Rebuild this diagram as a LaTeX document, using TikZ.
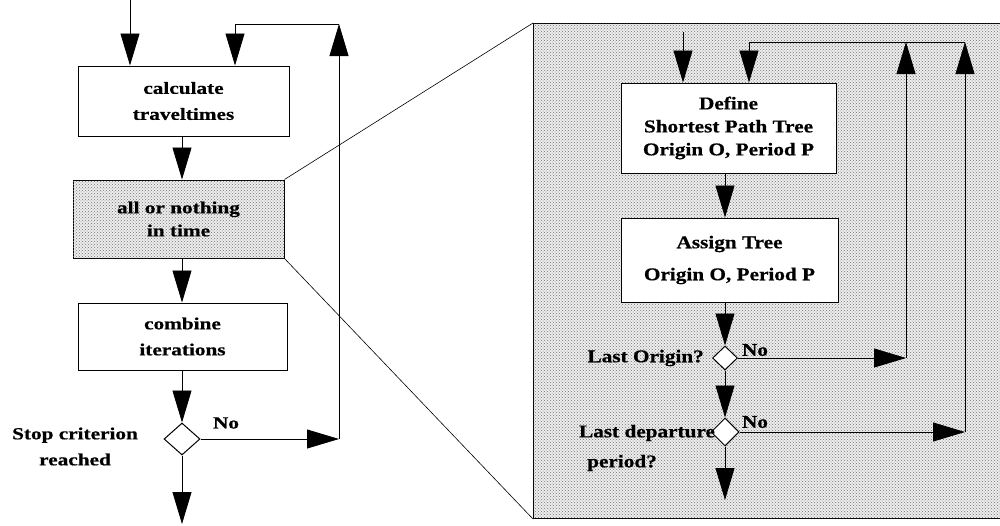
\documentclass[tikz,border=0pt]{standalone}
\usepackage{fontspec}
\setmainfont{Liberation Serif}[FakeStretch=1.25, FakeBold=0.6]
\newfontfamily\panelfont{Liberation Serif}[FakeStretch=1.18, FakeBold=0.6]
\usetikzlibrary{arrows.meta,shapes.geometric,patterns}
\begin{document}
\begin{tikzpicture}[x=1pt,y=-1pt,
  every node/.style={font=\bfseries\fontsize{17}{26}\selectfont},
  arr/.style={-{Triangle[length=32pt,width=19pt]}, line width=0.8pt},
  stepbox/.style={draw, line width=1pt, fill=white, inner sep=0pt, align=center},
  halftone/.style={fill=black!7, postaction={pattern=crosshatch dots, pattern color=black!55}},
  decision/.style={diamond, draw, line width=1pt, fill=white, inner sep=0pt},
  lbl/.style={inner sep=0pt, align=center},
  rtext/.style={font=\panelfont\bfseries\fontsize{18}{23}\selectfont},
  zoomline/.style={line width=0.6pt}
]
\clip (0,0) rectangle (1000,525);

% ---------- detail panel (drawn first, sits behind everything) ----------
\node[draw, line width=1pt, halftone, inner sep=0pt, anchor=north west,
      minimum width=480pt, minimum height=495pt] (panel) at (533,23) {};

% ---------- outer loop ----------
\node[stepbox, minimum width=211pt, minimum height=70pt] (calc) at (183.5,101) {calculate\\traveltimes};
\node[stepbox, halftone, minimum width=211pt, minimum height=78pt] (aon) at (178.5,219) {all or nothing\\[-3pt]in time};
\node[stepbox, minimum width=209pt, minimum height=67pt] (comb) at (182.5,336.5) {combine\\iterations};
\node[decision, minimum width=36pt, minimum height=32pt] (stop) at (182,439) {};

\node[lbl] (stoptxt) at (75,446.5) {Stop criterion\\reached};
\node[lbl] (nostop) at (226,423) {No};

\coordinate (in0) at (130,0);
\coordinate (outL) at (182,524);
\coordinate (cL) at (339,439);
\coordinate (tL) at (339,24);
\coordinate (rL) at (235,24);

\draw[arr] (in0) -- (in0 |- calc.north);
\draw[arr] (calc.south -| stop) -- (aon.north -| stop);
\draw[arr] (aon.south -| stop) -- (comb.north -| stop);
\draw[arr] (comb.south -| stop) -- (stop.north);
\draw[arr] (stop.south) -- (outL);
\draw[arr] (stop.east) -- (cL);
\draw[arr] (cL) -- (tL);
\draw[arr] (tL) -- (rL) -- (rL |- calc.north);

% ---------- magnification lines ----------
\draw[zoomline] (aon.north east) -- (panel.north west);
\draw[zoomline] (aon.south east) -- (panel.south west);

% ---------- inner loops ----------
\node[stepbox, rtext, minimum width=215pt, minimum height=90pt] (def) at (728.5,128) {Define\\Shortest Path Tree\\Origin O, Period P};
\node[stepbox, rtext, minimum width=217pt, minimum height=84pt] (asg) at (729.5,260) {Assign Tree\\[9pt]Origin O, Period P};
\node[decision, minimum width=25pt, minimum height=24pt] (lo) at (725,358) {};
\node[decision, minimum width=28pt, minimum height=28pt] (ld) at (725,432) {};

\node[lbl, rtext, anchor=east] (lotxt) at (704,358) {Last Origin?};
\node[lbl, rtext] (ldtxt1) at (647,433) {Last departure};
\node[lbl, rtext] (ldtxt2) at (622,463) {period?};
\node[lbl, rtext] (nolo) at (755,350) {No};
\node[lbl, rtext] (nold) at (755,422) {No};

\coordinate (in1) at (683,32);
\coordinate (outR) at (725,500);
\coordinate (c1) at (906,358);
\coordinate (t1) at (906,42);
\coordinate (c2) at (965,432);
\coordinate (t2) at (965,42);
\coordinate (r1) at (749,42);

\draw[arr] (in1) -- (in1 |- def.north);
\draw[arr] (def.south -| lo) -- (asg.north -| lo);
\draw[arr] (asg.south -| lo) -- (lo.north);
\draw[arr] (lo.south) -- (ld.north);
\draw[arr] (ld.south) -- (outR);
\draw[arr] (lo.east) -- (c1);
\draw[arr] (c1) -- (t1);
\draw[arr] (ld.east) -- (c2);
\draw[arr] (c2) -- (t2);
\draw[arr] (t2) -- (r1) -- (r1 |- def.north);
\end{tikzpicture}
\end{document}
